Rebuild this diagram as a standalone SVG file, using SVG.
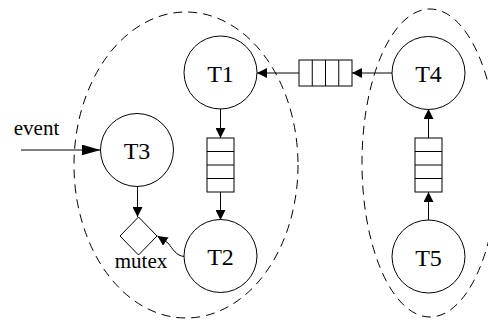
<svg xmlns="http://www.w3.org/2000/svg" width="488" height="320" viewBox="0 0 488 320">
<style>
  .node { fill: #fff; stroke: #000; stroke-width: 1; }
  .cl { fill: none; stroke: #000; stroke-width: 1; stroke-dasharray: 9 6; }
  .q { fill: #fff; stroke: #000; stroke-width: 1; }
  .e { fill: none; stroke: #000; stroke-width: 1; }
</style>
<defs>
  <marker id="arr" viewBox="0 0 10 10" refX="10" refY="5" markerWidth="10" markerHeight="10" markerUnits="userSpaceOnUse" orient="auto">
    <path d="M0,0 L10,5 L0,10 z" fill="#000"/>
  </marker>
  <marker id="arrL" viewBox="0 0 19 11" refX="19" refY="5.5" markerWidth="19" markerHeight="11" markerUnits="userSpaceOnUse" orient="auto">
    <path d="M0,0 L19,5.5 L0,11 z" fill="#000"/>
  </marker>
</defs>
<rect width="488" height="320" fill="#fff"/>
<g id="clusters">
  <ellipse class="cl" cx="186" cy="165" rx="112" ry="153"/>
  <ellipse class="cl" cx="430" cy="163" rx="68" ry="154"/>
</g>
<g id="connectors">
  <line class="e" x1="21" y1="150" x2="100.5" y2="150" marker-end="url(#arrL)"/>
  <line class="e" x1="220.5" y1="109" x2="220.5" y2="138" marker-end="url(#arr)"/>
  <line class="e" x1="220.5" y1="192" x2="220.5" y2="220" marker-end="url(#arr)"/>
  <line class="e" x1="392" y1="73" x2="352" y2="73" marker-end="url(#arr)"/>
  <line class="e" x1="299" y1="73" x2="257" y2="73" marker-end="url(#arr)"/>
  <line class="e" x1="428.5" y1="220" x2="428.5" y2="192" marker-end="url(#arr)"/>
  <line class="e" x1="428.5" y1="138" x2="428.5" y2="109" marker-end="url(#arr)"/>
  <line class="e" x1="137.5" y1="186.5" x2="137.5" y2="217" marker-end="url(#arr)"/>
  <path class="e" d="M184.5,256.5 C176,256 173,249 168,243 L157.5,236" marker-end="url(#arr)"/>
</g>
<g id="queue-h">
  <rect class="q" x="299" y="60" width="53" height="26"/>
  <line class="e" x1="312.25" y1="60" x2="312.25" y2="86"/>
  <line class="e" x1="325.5" y1="60" x2="325.5" y2="86"/>
  <line class="e" x1="338.75" y1="60" x2="338.75" y2="86"/>
</g>
<g id="queue-v1">
  <rect class="q" x="207" y="138" width="27" height="54"/>
  <line class="e" x1="207" y1="151.5" x2="234" y2="151.5"/>
  <line class="e" x1="207" y1="165" x2="234" y2="165"/>
  <line class="e" x1="207" y1="178.5" x2="234" y2="178.5"/>
</g>
<g id="queue-v2">
  <rect class="q" x="415" y="138" width="27" height="54"/>
  <line class="e" x1="415" y1="151.5" x2="442" y2="151.5"/>
  <line class="e" x1="415" y1="165" x2="442" y2="165"/>
  <line class="e" x1="415" y1="178.5" x2="442" y2="178.5"/>
</g>
<g id="T1">
  <circle class="node" cx="220.5" cy="72.5" r="36.5"/>
  <text x="220.5" y="81.5" font-family="Liberation Serif, serif" font-size="24" text-anchor="middle">T1</text>
</g>
<g id="T2">
  <circle class="node" cx="220.5" cy="256" r="36.5"/>
  <text x="220.5" y="265" font-family="Liberation Serif, serif" font-size="24" text-anchor="middle">T2</text>
</g>
<g id="T3">
  <circle class="node" cx="137" cy="150" r="36.5"/>
  <text x="137" y="158.5" font-family="Liberation Serif, serif" font-size="24" text-anchor="middle">T3</text>
</g>
<g id="T4">
  <circle class="node" cx="428.5" cy="73" r="36.5"/>
  <text x="428.5" y="82" font-family="Liberation Serif, serif" font-size="24" text-anchor="middle">T4</text>
</g>
<g id="T5">
  <circle class="node" cx="428.5" cy="256.5" r="36.5"/>
  <text x="428.5" y="265.5" font-family="Liberation Serif, serif" font-size="24" text-anchor="middle">T5</text>
</g>
<g id="mutex">
  <polygon class="node" points="138.5,217 157,236 138.5,255 120,236"/>
  <text x="141" y="268" font-family="Liberation Serif, serif" font-size="21" text-anchor="middle">mutex</text>
</g>
<g id="event">
  <text x="36.5" y="135" font-family="Liberation Serif, serif" font-size="21" text-anchor="middle">event</text>
</g>
</svg>
